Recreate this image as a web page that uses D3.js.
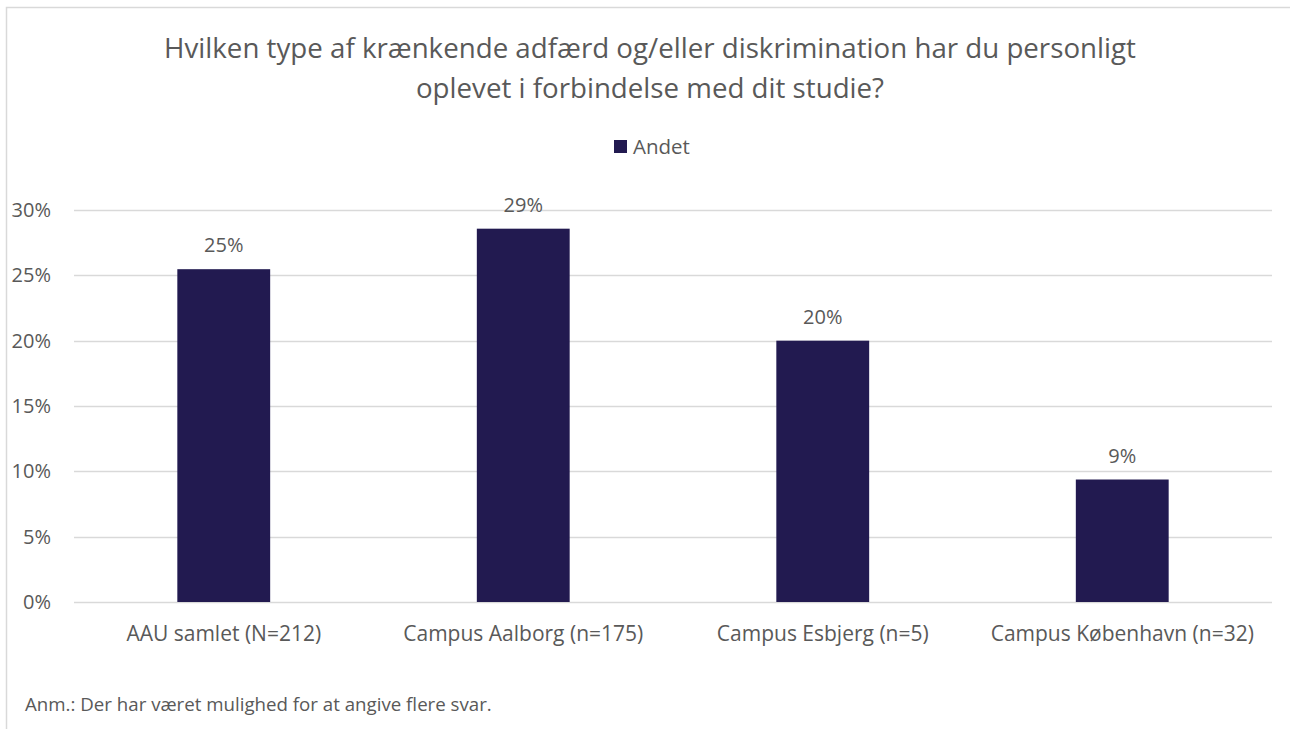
<!DOCTYPE html>
<html>
<head>
<meta charset="utf-8">
<script src="https://cdn.jsdelivr.net/npm/d3@7"></script>
<style>
  body { margin: 0; background: #fff; }
  text { font-family: "Open Sans", sans-serif; fill: #595959; }
</style>
</head>
<body>
<div id="chart"></div>
<script>
// --- Data ---
const categories = ['AAU samlet (N=212)', 'Campus Aalborg (n=175)', 'Campus Esbjerg (n=5)', 'Campus København (n=32)'];
const values = [25.47, 28.57, 20.0, 9.375];
const valueLabels = ['25%', '29%', '20%', '9%'];
const yTicks = [0, 5, 10, 15, 20, 25, 30];
const seriesName = 'Andet';
const titleLines = ['Hvilken type af krænkende adfærd og/eller diskrimination har du personligt', 'oplevet i forbindelse med dit studie?'];
const note = 'Anm.: Der har været mulighed for at angive flere svar.';

const width = 1290, height = 729;
const margin = {left: 74, right: 18, top: 210, bottom: 127};
const barColor = '#221a50';

const svg = d3.select('#chart')
  .append('svg')
  .attr('width', width)
  .attr('height', height);

// chart frame
svg.append('path')
  .attr('d', `M6.5,${height} L6.5,7.5 L${width},7.5`)
  .attr('fill', 'none')
  .attr('stroke', '#d9d9d9')
  .attr('stroke-width', 1.5);

// title
svg.append('text')
  .attr('x', 650)
  .attr('y', 58)
  .attr('text-anchor', 'middle')
  .attr('font-size', 27.7)
  .selectAll('tspan')
  .data(titleLines)
  .enter()
  .append('tspan')
  .attr('x', 650)
  .attr('dy', (d, i) => i === 0 ? 0 : 40)
  .text(d => d);

// legend
svg.append('rect')
  .attr('x', 614).attr('y', 140)
  .attr('width', 13).attr('height', 13)
  .attr('fill', barColor);
svg.append('text')
  .attr('x', 633).attr('y', 154)
  .attr('font-size', 20.5)
  .text(seriesName);

// scales
const x = d3.scaleBand()
  .domain(categories)
  .range([margin.left, width - margin.right])
  .paddingInner(0.69)
  .paddingOuter(0.345);
const y = d3.scaleLinear()
  .domain([0, 30])
  .range([height - margin.bottom, margin.top]);

// gridlines
svg.append('g')
  .selectAll('line')
  .data(yTicks)
  .enter()
  .append('line')
  .attr('x1', margin.left)
  .attr('x2', width - margin.right)
  .attr('y1', d => Math.round(y(d)) + 0.5)
  .attr('y2', d => Math.round(y(d)) + 0.5)
  .attr('stroke', '#d9d9d9')
  .attr('stroke-width', 1.3);

// y axis labels
const yAxis = d3.axisLeft(y).tickValues(yTicks).tickFormat(d => d + '%').tickSize(0).tickPadding(23);
const yg = svg.append('g')
  .attr('transform', `translate(${margin.left},0)`)
  .call(yAxis);
yg.select('.domain').remove();
yg.selectAll('text').attr('font-size', 20).attr('fill', '#595959').attr('font-family', '"Open Sans", sans-serif');

// bars
svg.append('g')
  .selectAll('rect')
  .data(values)
  .enter()
  .append('rect')
  .attr('x', (d, i) => x(categories[i]))
  .attr('y', d => y(d))
  .attr('width', x.bandwidth())
  .attr('height', d => y(0) - y(d))
  .attr('fill', barColor);

// value labels
svg.append('g')
  .selectAll('text')
  .data(values)
  .enter()
  .append('text')
  .attr('x', (d, i) => x(categories[i]) + x.bandwidth() / 2)
  .attr('y', d => y(d) - 17)
  .attr('text-anchor', 'middle')
  .attr('font-size', 20)
  .text((d, i) => valueLabels[i]);

// x axis labels
const xAxis = d3.axisBottom(x).tickSize(0).tickPadding(24);
const xg = svg.append('g')
  .attr('transform', `translate(0,${y(0)})`)
  .call(xAxis);
xg.select('.domain').remove();
xg.selectAll('text').attr('font-size', 21).attr('fill', '#595959').attr('font-family', '"Open Sans", sans-serif');

// note
svg.append('text')
  .attr('x', 25).attr('y', 711)
  .attr('font-size', 18.7)
  .text(note);
</script>
</body>
</html>
